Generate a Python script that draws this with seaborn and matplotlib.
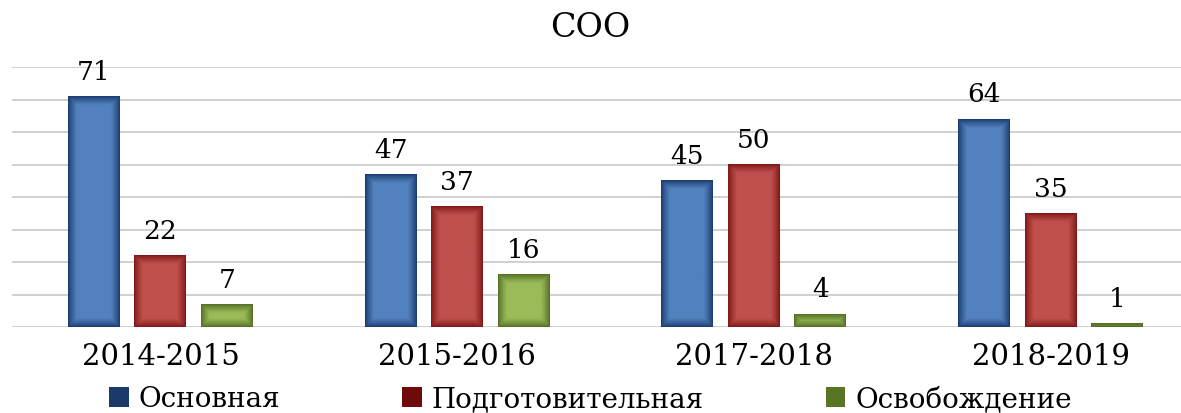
import numpy as np
import pandas as pd
import matplotlib
matplotlib.use("Agg")
import matplotlib.pyplot as plt
import seaborn as sns
from matplotlib.patches import Patch
from matplotlib.colors import to_rgb

# ---- data ----
periods = ["2014-2015", "2015-2016", "2017-2018", "2018-2019"]
series_names = ["Основная", "Подготовительная", "Освобождение"]
osnovnaya = [71, 47, 45, 64]
podgotovitelnaya = [22, 37, 50, 35]
osvobozhdenie = [7, 16, 4, 1]
title_text = "СОО"

center_colors = ["#5282BE", "#C0504D", "#9BBB59"]
edge_colors = ["#17366A", "#7A1414", "#4F6A22"]
legend_colors = ["#1B3A6B", "#6E0A0A", "#5A7426"]

df = pd.DataFrame({
    "period": periods * 3,
    "series": [series_names[0]] * 4 + [series_names[1]] * 4 + [series_names[2]] * 4,
    "value": osnovnaya + podgotovitelnaya + osvobozhdenie,
})

sns.set_theme(style="white")
plt.rcParams["font.family"] = ["DejaVu Serif"]

W, H = 1181, 414
fig = plt.figure(figsize=(W / 100, H / 100), dpi=100)
ax = fig.add_axes([12 / W, (H - 328) / H, 1187 / W, 260 / H])

sns.barplot(data=df, x="period", y="value", hue="series", hue_order=series_names,
            order=periods, palette=center_colors, width=0.672, gap=0.22,
            legend=False, ax=ax, linewidth=0, saturation=1)

ax.set_xlim(-0.5, 3.5)
ax.set_ylim(0, 80)
ax.set_yticks(np.arange(0, 81, 10))
ax.yaxis.grid(True, color="#C8C8C8", linewidth=1.2)
ax.set_axisbelow(True)
for s in ax.spines.values():
    s.set_visible(False)
ax.set_yticklabels([])
ax.tick_params(axis="y", length=0)
ax.tick_params(axis="x", length=0, pad=11, labelsize=21, labelcolor="#000000")
ax.set_xlabel("")
ax.set_ylabel("")

# gradient shading inside bars
fig.canvas.draw()
for i, cont in enumerate(ax.containers):
    c_center = np.array(to_rgb(center_colors[i]))
    c_edge = np.array(to_rgb(edge_colors[i]))
    for bar in cont:
        x0, y0 = bar.get_x(), bar.get_y()
        w, h = bar.get_width(), bar.get_height()
        p0 = ax.transData.transform((x0, y0))
        p1 = ax.transData.transform((x0 + w, y0 + h))
        pw = max(int(round(abs(p1[0] - p0[0]))), 2)
        ph = max(int(round(abs(p1[1] - p0[1]))), 2)
        xx = np.arange(pw) + 0.5
        yy = np.arange(ph) + 0.5
        dx = np.minimum(xx, pw - xx)[None, :]
        dy = np.minimum(yy, ph - yy)[:, None]
        d = np.minimum(dx, dy)
        shade = np.clip(d / 9.0, 0, 1) ** 0.8
        img = c_edge[None, None, :] + (c_center - c_edge)[None, None, :] * shade[:, :, None]
        ax.imshow(img, extent=(x0, x0 + w, y0, y0 + h), aspect="auto",
                  interpolation="bilinear", zorder=bar.get_zorder() + 0.1,
                  origin="lower")
    ax.bar_label(cont, fmt="%d", padding=9, fontsize=19, color="#000000")

ax.set_xlim(-0.5, 3.5)
ax.set_ylim(0, 80)

fig.text(0.5, 1 - 28 / H, title_text, ha="center", va="center", fontsize=24, color="#000000")

handles = [Patch(facecolor=legend_colors[i], edgecolor="none", label=series_names[i]) for i in range(3)]
fig.legend(handles=handles, loc="center", bbox_to_anchor=(0.5, 1 - 400 / H), ncol=3,
           frameon=False, fontsize=20, handlelength=0.7, handleheight=0.7,
           handletextpad=0.35, columnspacing=4.4, labelcolor="#000000")

fig.savefig("out.png", dpi=100)
